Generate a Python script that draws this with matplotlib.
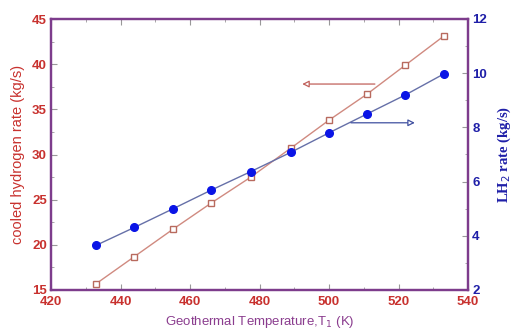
import matplotlib.pyplot as plt
from matplotlib.ticker import MultipleLocator

temperature = [433, 444, 455, 466, 477.5, 489, 500, 511, 522, 533]
cooled_h2 = [15.7, 18.7, 21.7, 24.6, 27.5, 30.7, 33.8, 36.7, 39.9, 43.1]
lh2_rate = [3.65, 4.31, 4.99, 5.68, 6.37, 7.08, 7.8, 8.5, 9.2, 9.97]

plt.rcParams['font.family'] = ['Liberation Sans', 'DejaVu Sans']

spine_c = '#7d3c8c'
red_c = '#c8312e'
blue_c = '#1f1fa8'

fig = plt.figure(figsize=(5.16, 3.35), dpi=100)
ax = fig.add_axes([51 / 516, 45 / 335, 417 / 516, 271 / 335])
ax2 = ax.twinx()

ax.plot(temperature, cooled_h2, '-', color='#d08a80', lw=1.0,
        marker='s', ms=4.8, mfc='white', mec='#b86a5e', mew=1.0, zorder=3)
ax2.plot(temperature, lh2_rate, '-', color='#6670a8', lw=1.0,
         marker='o', ms=5.5, mfc='#0a14e6', mec='#0a14e6', zorder=3)

# arrows pointing to each series' axis
ax.annotate('', xy=(491.5, 37.8), xytext=(514, 37.8),
            arrowprops=dict(arrowstyle='-|>', color='#c0605a', lw=0.9,
                            fc='white', mutation_scale=10))
ax2.annotate('', xy=(525.5, 8.17), xytext=(505.5, 8.17),
             arrowprops=dict(arrowstyle='-|>', color='#4050a0', lw=0.9,
                             fc='white', mutation_scale=10))

ax.set_xlim(420, 540)
ax.set_ylim(15, 45)
ax2.set_ylim(2, 12)
ax.xaxis.set_major_locator(MultipleLocator(20))
ax.xaxis.set_minor_locator(MultipleLocator(10))
ax.yaxis.set_major_locator(MultipleLocator(5))
ax.yaxis.set_minor_locator(MultipleLocator(2.5))
ax2.yaxis.set_major_locator(MultipleLocator(2))
ax2.yaxis.set_minor_locator(MultipleLocator(1))

for a in (ax, ax2):
    for s in a.spines.values():
        s.set_color(spine_c)
        s.set_linewidth(1.6)

ax.tick_params(axis='both', which='both', direction='in', color='#999999')
ax.tick_params(which='major', length=4, top=True)
ax.tick_params(which='minor', length=2, top=True)
ax.tick_params(axis='x', labelcolor=red_c, labelsize=9.5, pad=4)
ax.tick_params(axis='y', labelcolor=red_c, labelsize=9.5, pad=3)
ax2.tick_params(axis='y', which='both', direction='in', color='#999999',
                labelcolor=blue_c, labelsize=9.5, pad=3)
ax2.tick_params(which='major', length=4)
ax2.tick_params(which='minor', length=2)
for lab in ax.get_xticklabels() + ax.get_yticklabels() + ax2.get_yticklabels():
    lab.set_fontweight('bold')

ax.set_xlabel('Geothermal Temperature,T$_1$ (K)', color='#8a3c8e', fontsize=9.5, labelpad=5)
ax.set_ylabel('cooled hydrogen rate (kg/s)', color=red_c, fontsize=10.5, labelpad=5)
ax2.set_ylabel('LH$_2$ rate (kg/s)', color=blue_c, fontsize=10.5, family='Liberation Serif',
               fontweight='bold', labelpad=6)

plt.savefig('out.png', dpi=100)
